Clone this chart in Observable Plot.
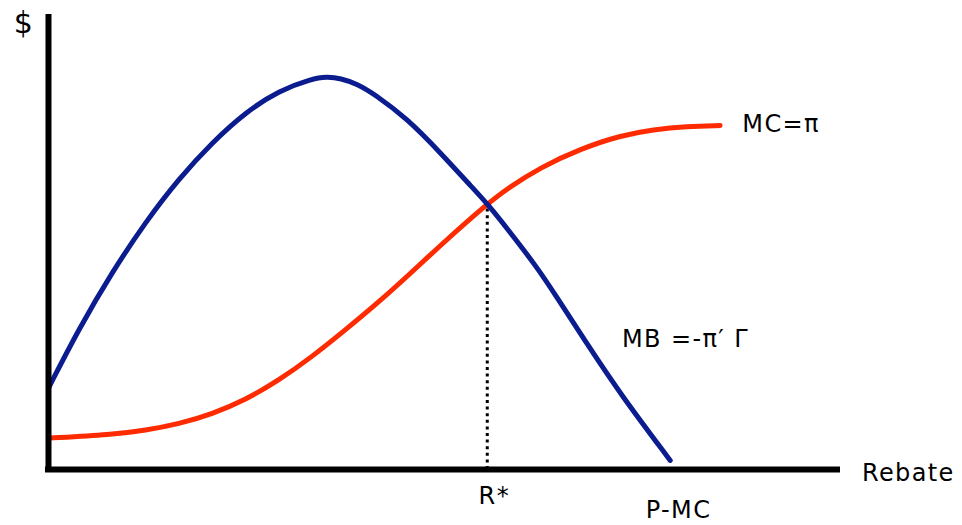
<!DOCTYPE html>
<html>
<head>
<meta charset="utf-8">
<script src="https://cdn.jsdelivr.net/npm/d3@7"></script>
<script src="https://cdn.jsdelivr.net/npm/@observablehq/plot@0.6"></script>
<style>
  html, body { margin: 0; padding: 0; background: #fff; }
  #chart svg { display: block; }
</style>
</head>
<body>
<div id="chart"></div>
<script>
// Marginal benefit curve (blue): rebate level, $
const mbX = [0, 3.83, 8.04, 12.25, 16.45, 20.67, 24.87, 29.08, 33.3, 35.1, 36.9, 39.0, 41.07, 45.3, 49.5, 53.7, 55.4, 57.9, 61.7, 63.8, 68.0, 72.2, 78.5];
const mbY = [17.9, 30.9, 43.4, 54.4, 63.9, 71.9, 78.5, 83.3, 85.9, 86.3, 86.0, 84.7, 82.6, 77.1, 69.6, 61.6, 58.4, 53.0, 44.4, 38.9, 27.6, 16.6, 2.0];

// Marginal cost curve (red)
const mcX = [0, 8.04, 12.25, 16.45, 20.67, 24.87, 29.08, 33.3, 37.5, 41.7, 45.7, 49.5, 55.4, 57.9, 62.1, 67.2, 72.2, 76.4, 80.6, 84.8];
const mcY = [6.9, 7.7, 8.6, 10.0, 12.2, 15.3, 19.6, 24.8, 30.7, 36.8, 43.1, 49.3, 58.4, 61.7, 66.4, 70.5, 73.4, 74.7, 75.4, 75.6];

// Optimum rebate R* and the value there
const rStar = 55.4;
const rStarValue = 58.4;

// Text labels
const labelText = ["MC=π", "MB =-π′ Γ", "Rebate", "R*", "P-MC"];
const labelX = [87.6, 72.4, 102.7, 54.3, 75.4];
const labelY = [75.9, 28.6, -0.77, -5.9, -9.0];
const axisYLabel = "$";
const axisYLabelX = -4.4;
const axisYLabelY = 98.0;

const mb = mbX.map((x, i) => ({x, y: mbY[i]}));
const mc = mcX.map((x, i) => ({x, y: mcY[i]}));
const labels = labelText.map((t, i) => ({t, x: labelX[i], y: labelY[i]}));

const chart = Plot.plot({
  width: 962,
  height: 525,
  marginLeft: 48,
  marginRight: 122,
  marginTop: 14,
  marginBottom: 56,
  x: {domain: [0, 100], axis: null},
  y: {domain: [0, 100], axis: null},
  style: {fontFamily: "'DejaVu Sans', sans-serif", background: "#fff", letterSpacing: "1.4px"},
  marks: [
    Plot.ruleX([rStar], {y1: 0, y2: rStarValue, stroke: "#000", strokeWidth: 3, strokeDasharray: "3,3.6"}),
    Plot.line(mc, {x: "x", y: "y", stroke: "#FF2B00", strokeWidth: 5, curve: "basis"}),
    Plot.line(mb, {x: "x", y: "y", stroke: "#0B1C8F", strokeWidth: 5, curve: "basis"}),
    Plot.ruleX([0], {y1: -0.66, y2: 100, stroke: "#000", strokeWidth: 6}),
    Plot.ruleY([0], {x1: -0.38, x2: 100, stroke: "#000", strokeWidth: 6}),
    Plot.text(labels, {x: "x", y: "y", text: "t", textAnchor: "start", fontSize: 24, fill: "#000"}),
    Plot.text([axisYLabel], {x: axisYLabelX, y: axisYLabelY, text: d => d, textAnchor: "start", fontSize: 30, fill: "#000"})
  ]
});
document.getElementById("chart").appendChild(chart);
</script>
</body>
</html>
